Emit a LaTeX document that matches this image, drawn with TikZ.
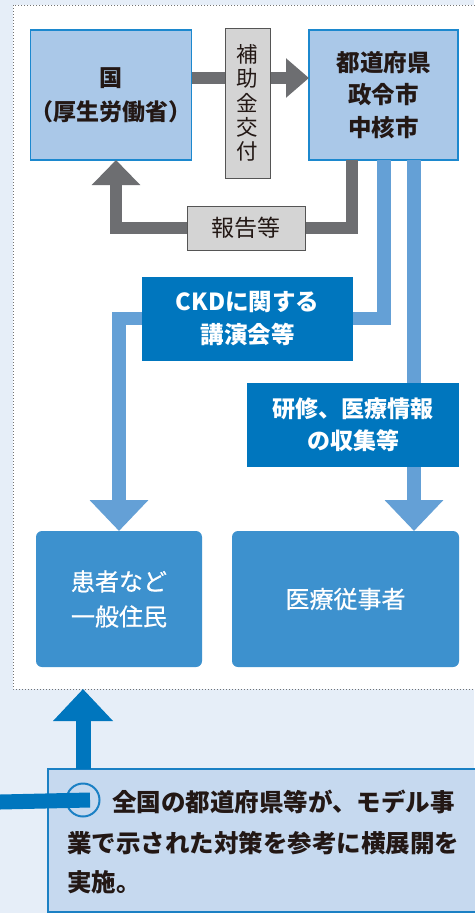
\documentclass[tikz,border=0pt]{standalone}
\usepackage{fontspec}
\newfontfamily\jp{Noto Sans CJK JP}
\newfontfamily\jpmed[FakeBold=0.7]{Noto Sans CJK JP}
\usetikzlibrary{arrows.meta}
\definecolor{bgc}{HTML}{E6EEF8}
\definecolor{topfill}{HTML}{AAC8E8}
\definecolor{topdraw}{HTML}{1C88CE}
\definecolor{grayc}{HTML}{6D6E71}
\definecolor{labfill}{HTML}{D4D4D4}
\definecolor{labdraw}{HTML}{555555}
\definecolor{lblue}{HTML}{64A0D6}
\definecolor{dblue}{HTML}{0076BE}
\definecolor{mblue}{HTML}{3D91CE}
\definecolor{botfill}{HTML}{C6D9EF}
\definecolor{botdraw}{HTML}{1B80C4}
\definecolor{txt}{HTML}{231815}
\begin{document}
\begin{tikzpicture}[x=1pt,y=-1pt,
  every node/.style={font=\jp, inner sep=0pt, outer sep=0pt},
  topbox/.style={draw=topdraw, line width=1.5pt, fill=topfill, align=center, text=txt,
    font=\jp\bfseries\fontsize{23}{34}\selectfont},
  labbox/.style={draw=labdraw, line width=0.8pt, fill=labfill, align=center, text=txt},
  darkbox/.style={fill=dblue, align=center, text=white,
    font=\jp\bfseries\fontsize{23.5}{33}\selectfont},
  midbox/.style={fill=mblue, rounded corners=6pt, align=center, text=white,
    font=\jpmed\fontsize{24}{35}\selectfont},
  grayarrow/.style={draw=grayc, line width=11.5pt},
  bluearrow/.style={draw=lblue, line width=14pt}
]
\useasboundingbox (0,0) rectangle (474,913);
\fill[bgc] (0,0) rectangle (474,913);
\draw[dotted, draw=gray!90!black, line width=1pt, fill=white] (13,5) rectangle (490,689);

% top boxes
\node[topbox, minimum width=150pt, minimum height=130pt] (gov) at (111,95) {国\\（厚生労働省）};
\node[topbox, minimum width=149pt, minimum height=130pt, font=\jp\bfseries\fontsize{23.5}{32.5}\selectfont] (pref) at (383.5,95) {都道府県\\政令市\\中核市};

% gray arrows
\draw[grayarrow, -{Triangle[width=38pt,length=23pt]}] (gov.east |- 0,78) -- (pref.west |- 0,78);
\coordinate (r1) at (352,160);
\coordinate (r2) at (116,160);
\draw[grayarrow, line join=miter, -{Triangle[width=47pt,length=25pt]}] (r1) -- (352,228) -- (116,228) -- (r2);

\node[labbox, minimum width=45pt, minimum height=150pt, font=\jp\fontsize{21.5}{24.2}\selectfont] (subsidy) at (247.5,103) {補\\助\\金\\交\\付};
\node[labbox, minimum width=118pt, minimum height=44pt, font=\jp\fontsize{23}{27}\selectfont] (report) at (246,228) {報告等};

% bottom boxes
\node[midbox, minimum width=166pt, minimum height=136pt] (resid) at (119,599) {患者など\\一般住民};
\node[midbox, minimum width=227pt, minimum height=136pt] (med) at (345.5,599) {医療従事者};

% blue arrows
\coordinate (b1) at (384,160);
\coordinate (b2) at (414,160);
\draw[bluearrow, line width=13.5pt, line join=miter, -{Triangle[width=57pt,length=31pt]}] (b1) -- (384,318.5) -- (119,318.5) -- (resid.north -| 119,0);
\draw[bluearrow, -{Triangle[width=57pt,length=31pt]}] (b2) -- (med.north -| 414,0);

\node[darkbox, minimum width=211pt, minimum height=84pt] (ckd) at (247.5,319) {CKDに関する\\講演会等};
\node[darkbox, minimum width=212pt, minimum height=84pt, font=\jp\bfseries\fontsize{23}{32}\selectfont] (train) at (353,425) {研修、医療情報\\の収集等};

% bottom text box
\node[draw=botdraw, line width=1.5pt, fill=botfill, minimum width=440pt, minimum height=143pt, anchor=north west] (note) at (48,769) {};
\draw[dblue, line width=15pt, -{Triangle[width=58pt,length=32pt]}] (note.north -| 83,0) -- (83,689);
\node[circle, draw=botdraw, line width=2pt, fill=botfill, minimum size=33pt] (circ) at (83,800) {};
\coordinate (lstart) at (0,802);
\draw[dblue, line width=15pt] (lstart) -- (circ.center -| 90,0);
\begin{scope}[every node/.append style={text=txt, font=\jp\bfseries\fontsize{24.5}{30}\selectfont, anchor=west}]
\node (t1) at (112,802) {全国の都道府県等が、モデル事};
\node (t2) at (67,843) {業で示された対策を参考に横展開を};
\node (t3) at (67,882) {実施。};
\end{scope}
\end{tikzpicture}
\end{document}
